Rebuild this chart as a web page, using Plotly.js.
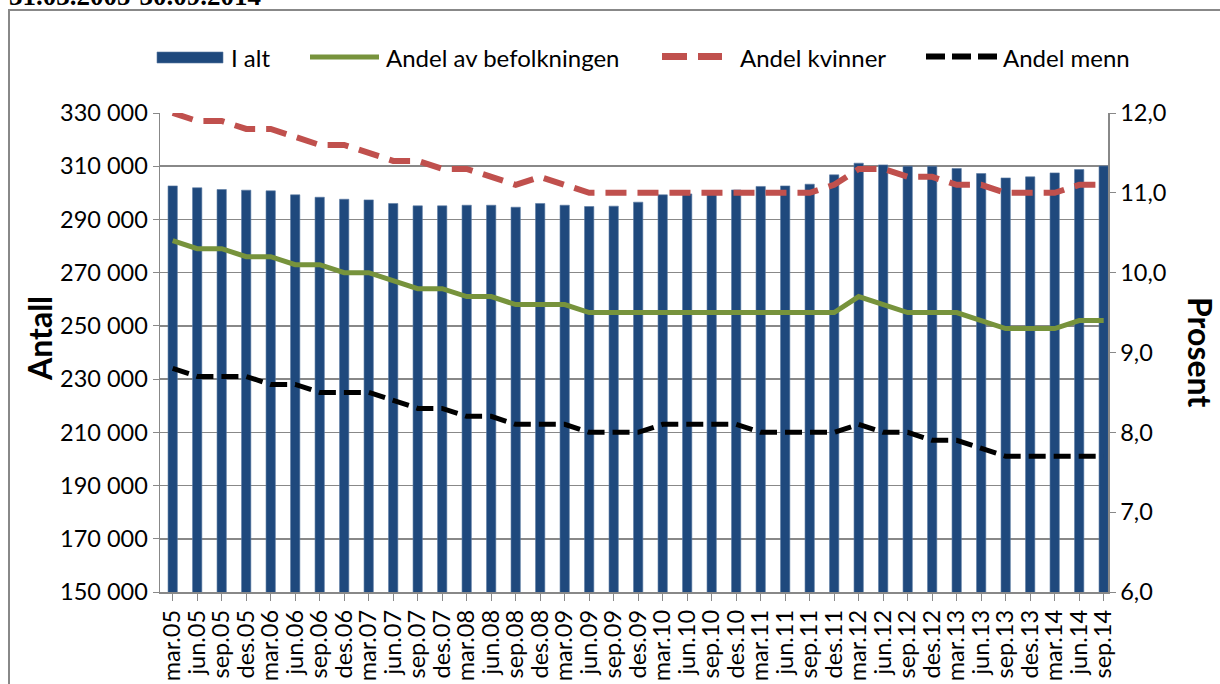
<!DOCTYPE html>
<html><head><meta charset="utf-8">
<script src="https://cdn.plot.ly/plotly-3.0.1.min.js"></script>
<style>html,body{margin:0;padding:0;background:#fff}#chart{width:1220px;height:684px}</style>
</head><body><div id="chart"></div>
<script>
const categories = ["mar.05","jun.05","sep.05","des.05","mar.06","jun.06","sep.06","des.06","mar.07","jun.07","sep.07","des.07","mar.08","jun.08","sep.08","des.08","mar.09","jun.09","sep.09","des.09","mar.10","jun.10","sep.10","des.10","mar.11","jun.11","sep.11","des.11","mar.12","jun.12","sep.12","des.12","mar.13","jun.13","sep.13","des.13","mar.14","jun.14","sep.14"];
const iAlt = [302600,301900,301250,301000,300750,299250,298350,297600,297350,296000,295100,295100,295350,295350,294600,296000,295350,294850,295000,296500,299250,299600,300000,301100,302400,302600,303250,306750,311150,310500,310000,310000,309150,307250,305600,306000,307500,308750,310100];
const andelBefolkningen = [10.4,10.3,10.3,10.2,10.2,10.1,10.1,10.0,10.0,9.9,9.8,9.8,9.7,9.7,9.6,9.6,9.6,9.5,9.5,9.5,9.5,9.5,9.5,9.5,9.5,9.5,9.5,9.5,9.7,9.6,9.5,9.5,9.5,9.4,9.3,9.3,9.3,9.4,9.4];
const andelKvinner = [12.0,11.9,11.9,11.8,11.8,11.7,11.6,11.6,11.5,11.4,11.4,11.3,11.3,11.2,11.1,11.2,11.1,11.0,11.0,11.0,11.0,11.0,11.0,11.0,11.0,11.0,11.0,11.1,11.3,11.3,11.2,11.2,11.1,11.1,11.0,11.0,11.0,11.1,11.1];
const andelMenn = [8.8,8.7,8.7,8.7,8.6,8.6,8.5,8.5,8.5,8.4,8.3,8.3,8.2,8.2,8.1,8.1,8.1,8.0,8.0,8.0,8.1,8.1,8.1,8.1,8.0,8.0,8.0,8.0,8.1,8.0,8.0,7.9,7.9,7.8,7.7,7.7,7.7,7.7,7.7];
const seriesNames = ["I alt","Andel av befolkningen","Andel kvinner","Andel menn"];
const leftTicks = [150000,170000,190000,210000,230000,250000,270000,290000,310000,330000];
const rightTicks = [6,7,8,9,10,11,12];
const titleText = "31.03.2005-30.09.2014";

const FONT = "Lato, 'Open Sans', sans-serif";
const COL = {bar:'#1F497D', green:'#77933C', red:'#C0504D', black:'#000000'};
const M = {l:160, r:112, t:113, b:92};
const PW = 1220 - M.l - M.r, PH = 684 - M.t - M.b;
const px = x => (x - M.l) / PW;
const py = y => (684 - M.b - y) / PH;

const traces = [
  {type:'bar', name:seriesNames[0], x:categories, y:iAlt, marker:{color:COL.bar, line:{color:'#5a7aa3', width:0.6}}, yaxis:'y'},
  {type:'scatter', mode:'lines', name:seriesNames[1], x:categories, y:andelBefolkningen, yaxis:'y2', line:{color:COL.green, width:5}},
  {type:'scatter', mode:'lines', name:seriesNames[2], x:categories, y:andelKvinner, yaxis:'y2', line:{color:COL.red, width:6, dash:'21px,11px'}},
  {type:'scatter', mode:'lines', name:seriesNames[3], x:categories, y:andelMenn, yaxis:'y2', line:{color:COL.black, width:5, dash:'17px,8px'}}
];

// custom legend (symbols + labels)
const LY = 57;
const legendShapes = [
  {type:'rect', xref:'paper', yref:'paper', x0:px(157), x1:px(223), y0:py(63), y1:py(52), fillcolor:COL.bar, line:{color:'#5a7aa3', width:0.6}},
  {type:'line', xref:'paper', yref:'paper', x0:px(310), x1:px(379), y0:py(57), y1:py(57), line:{color:COL.green, width:5}},
  {type:'line', xref:'paper', yref:'paper', x0:px(662), x1:px(722), y0:py(56.5), y1:py(56.5), line:{color:COL.red, width:7, dash:'25px,11px'}},
  {type:'line', xref:'paper', yref:'paper', x0:px(926), x1:px(997), y0:py(56.5), y1:py(56.5), line:{color:COL.black, width:6, dash:'19px,7px'}}
];
const legendX = [231, 386, 740, 1003];
const legendAnn = seriesNames.map((n,i)=>({text:n, xref:'paper', yref:'paper', x:px(legendX[i]), xanchor:'left', y:py(LY), yanchor:'middle', showarrow:false, xshift:-2, font:{family:FONT, size:24, color:'#000'}}));

const layout = {
  width:1220, height:684,
  margin:M,
  paper_bgcolor:'#fff', plot_bgcolor:'#fff',
  separators:', ',
  font:{family:FONT, size:24, color:'#000'},
  showlegend:false,
  bargap:0.62,
  xaxis:{type:'category', range:[-0.518,38.176], tickmode:'array', tickvals:categories, ticktext:categories, tickangle:-90, tickfont:{size:23.5, family:FONT}, showline:true, linecolor:'#888', linewidth:1.5, ticks:'outside', ticklen:7, tickcolor:'#888', showgrid:false},
  yaxis:{range:[150000,330000], tickvals:leftTicks, tickformat:',d', showgrid:true, gridcolor:'#888', gridwidth:1.5, showline:true, linecolor:'#888', linewidth:1.5, ticks:'outside', ticklen:6, tickcolor:'#888', tickfont:{size:23.5, family:FONT}, zeroline:false},
  yaxis2:{overlaying:'y', side:'right', range:[6,12], tickvals:rightTicks, tickformat:'.1f', showgrid:false, showline:true, linecolor:'#888', linewidth:1.5, ticks:'outside', ticklen:6, tickcolor:'#888', tickfont:{size:23.5, family:FONT}, zeroline:false},
  shapes:[{type:'rect', xref:'paper', yref:'paper', x0:px(9), x1:px(1260), y0:py(760), y1:py(10), line:{color:'#888', width:2}, fillcolor:'rgba(0,0,0,0)', layer:'below'}].concat(legendShapes),
  annotations:[
    {text:'<b>'+titleText+'</b>', xref:'paper', yref:'paper', x:px(7), xanchor:'left', y:py(13), yanchor:'bottom', showarrow:false, font:{family:"'Liberation Serif', serif", size:27, color:'#000'}},
    {text:'<b>Antall</b>', xref:'paper', yref:'paper', x:px(39), xanchor:'center', y:py(339), yanchor:'middle', textangle:-90, showarrow:false, font:{family:FONT, size:32, color:'#000'}},
    {text:'<b>Prosent</b>', xref:'paper', yref:'paper', x:px(1201), xanchor:'center', y:py(352), yanchor:'middle', textangle:90, showarrow:false, font:{family:FONT, size:32, color:'#000'}}
  ].concat(legendAnn)
};
Plotly.newPlot('chart', traces, layout, {staticPlot:true, displayModeBar:false});
</script></body></html>
